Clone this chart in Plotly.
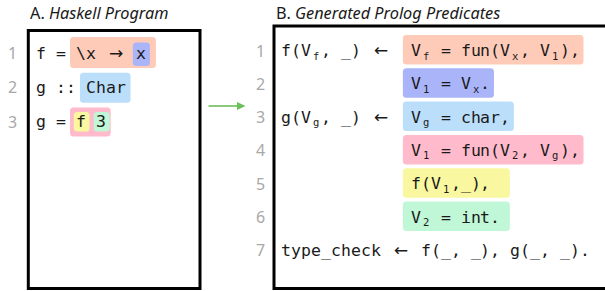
import plotly.graph_objects as go

# ---------------- content ----------------
TITLE_A = "A. <i>Haskell Program</i>"
TITLE_B = "B. <i>Generated Prolog Predicates</i>"

# {x} marks a subscript occupying one column; "->" / "<-" are drawn as arrows
HASKELL_LINES = [
    "f = \\x -> x",
    "g :: Char",
    "g = f 3",
]
PAD13 = " " * 13
PROLOG_LINES = [
    "f(V{f}, _) <-  V{f} = fun(V{x}, V{1}),",
    PAD13 + "V{1} = V{x}.",
    "g(V{g}, _) <-  V{g} = char,",
    PAD13 + "V{1} = fun(V{2}, V{g}),",
    PAD13 + "f(V{1},_),",
    PAD13 + "V{2} = int.",
    "type_check <- f(_, _), g(_, _).",
]
HASKELL_NUMS = ["1", "2", "3"]
PROLOG_NUMS = ["1", "2", "3", "4", "5", "6", "7"]

ORANGE, PURPLE, BLUE = "#FFCBB9", "#A9B4F9", "#BBDEFB"
PINK, YELLOW, GREEN = "#FFBACB", "#F9F79F", "#C0F7D6"

# highlights: (line index, first column, last column, colour)
HASKELL_MARKS = [(0, 4, 10, ORANGE), (0, 10, 10, PURPLE), (1, 5, 8, BLUE),
                 (2, 4, 6, PINK), (2, 4, 4, YELLOW), (2, 6, 6, GREEN)]
PROLOG_MARKS = [(0, 13, 29, ORANGE), (1, 13, 20, PURPLE), (2, 13, 22, BLUE),
                (3, 13, 29, PINK), (4, 13, 21.6, YELLOW), (5, 13, 21.6, GREEN)]

# ---------------- geometry / style ----------------
W, H = 605, 291
CW = 9.95                     # monospace cell width
MONO = "DejaVu Sans Mono"
SANS = "Noto Sans"
TXT = "#1a1a1a"
NUMC = "#A8A8A8"

LEFT_X0, RIGHT_X0 = 36.5, 281.5
LEFT_Y = [53.0, 87.3, 121.6]
RIGHT_Y = [50.5 + 33.3 * i for i in range(7)]
# per-highlight padding (left, right, top, bottom) for left panel (nested boxes)
LEFT_PADS = [(6.3, 10, 16, 15), (3.2, 4, 10.5, 13), (6.3, 4.5, 14.5, 15.5),
             (6.3, 4.5, 14, 15), (2.5, 3.3, 9.5, 10), (2.5, 3.5, 9.5, 10)]
RIGHT_PAD = (8, 3.5, 15.5, 14)

fig = go.Figure()
shapes, annos = [], []


def rrect(x0, y0, x1, y1, r=3.5):
    return (f"M {x0+r},{y0} L {x1-r},{y0} Q {x1},{y0} {x1},{y0+r} "
            f"L {x1},{y1-r} Q {x1},{y1} {x1-r},{y1} L {x0+r},{y1} "
            f"Q {x0},{y1} {x0},{y1-r} L {x0},{y0+r} Q {x0},{y0} {x0+r},{y0} Z")


def parse(line):
    cells, col, i = [], 0, 0
    while i < len(line):
        if line.startswith("<-", i) or line.startswith("->", i):
            cells.append((col + 1.0, "\u2190" if line[i] == "<" else "\u2192", "arrow"))
            col += 2; i += 2
        elif line[i] == "{":
            j = line.index("}", i)
            cells.append((col + 0.5, line[i + 1:j], "sub"))
            col += 1; i = j + 1
        elif line[i] == " ":
            col += 1; i += 1
        else:
            cells.append((col + 0.5, line[i], "char"))
            col += 1; i += 1
    return cells


def draw_code(lines, x0, ys):
    for line, y in zip(lines, ys):
        for pos, ch, kind in parse(line):
            x = x0 + pos * CW
            if kind == "char":
                annos.append(dict(x=x, y=y, text=ch, font=dict(family=MONO, size=16.5, color=TXT)))
            elif kind == "sub":
                annos.append(dict(x=x, y=y + 5, text=ch, font=dict(family=MONO, size=10.5, color=TXT)))
            else:
                annos.append(dict(x=x, y=y - 0.5, text=ch, font=dict(family="DejaVu Sans", size=17, color=TXT)))


def draw_nums(nums, xc, ys):
    for n, y in zip(nums, ys):
        annos.append(dict(x=xc, y=y, text=n, font=dict(family=SANS, size=16, color=NUMC)))


# highlight boxes (drawn below text)
for (li, c0, c1, col), (pl, pr, pt, pb) in zip(HASKELL_MARKS, LEFT_PADS):
    y = LEFT_Y[li]
    shapes.append(dict(type="path", path=rrect(LEFT_X0 + c0 * CW - pl, y - pt,
                                               LEFT_X0 + (c1 + 1) * CW + pr, y + pb),
                       fillcolor=col, line=dict(width=0), layer="below"))
for li, c0, c1, col in PROLOG_MARKS:
    y = RIGHT_Y[li]
    pl, pr, pt, pb = RIGHT_PAD
    shapes.append(dict(type="path", path=rrect(RIGHT_X0 + c0 * CW - pl, y - pt,
                                               RIGHT_X0 + (c1 + 1) * CW + pr, y + pb),
                       fillcolor=col, line=dict(width=0), layer="below"))

# panels
shapes.append(dict(type="rect", x0=28.3, x1=200, y0=30.5, y1=288.5,
                   line=dict(color="black", width=3), fillcolor="rgba(0,0,0,0)"))
shapes.append(dict(type="rect", x0=274, x1=615, y0=26, y1=288.5,
                   line=dict(color="black", width=3), fillcolor="rgba(0,0,0,0)"))

# connecting arrow
shapes.append(dict(type="line", x0=208.5, x1=238.5, y0=106, y1=106,
                   line=dict(color="#6CBF5B", width=1.6)))
shapes.append(dict(type="path", path="M 237,102 L 245.5,106 L 237,110 Z",
                   fillcolor="#6CBF5B", line=dict(width=0)))

draw_code(HASKELL_LINES, LEFT_X0, LEFT_Y)
draw_code(PROLOG_LINES, RIGHT_X0, RIGHT_Y)
draw_nums(HASKELL_NUMS, 12.5, LEFT_Y)
draw_nums(PROLOG_NUMS, 260, RIGHT_Y)

annos.append(dict(x=27.5, y=12.5, text=TITLE_A, xanchor="left",
                  font=dict(family=SANS, size=16.3, color=TXT)))
annos.append(dict(x=273.5, y=12.5, text=TITLE_B, xanchor="left",
                  font=dict(family=SANS, size=16.3, color=TXT)))

for a in annos:
    a.setdefault("xanchor", "center")
    a.update(yanchor="middle", showarrow=False, xref="x", yref="y")

fig.update_layout(
    width=W, height=H, margin=dict(l=0, r=0, t=0, b=0),
    paper_bgcolor="white", plot_bgcolor="white",
    xaxis=dict(range=[0, W], visible=False, fixedrange=True),
    yaxis=dict(range=[H, 0], visible=False, fixedrange=True),
    shapes=shapes, annotations=annos, showlegend=False,
)
fig.write_html("out.html", config=dict(displayModeBar=False),
               post_script="document.body.style.margin='0';document.body.style.overflow='hidden';")
